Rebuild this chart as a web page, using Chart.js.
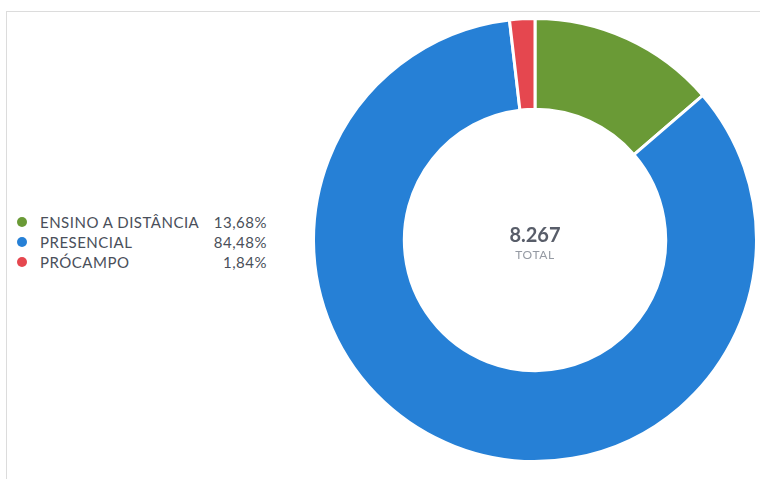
<!DOCTYPE html>
<html>
<head>
<meta charset="utf-8">
<script src="https://cdn.jsdelivr.net/npm/chart.js@4/dist/chart.umd.min.js"></script>
<style>
  html, body { margin: 0; padding: 0; background: #fff; width: 760px; height: 479px; overflow: hidden; }
  #frame { position: absolute; left: 6px; top: 11px; width: 760px; height: 480px; border-top: 1px solid #dcdcdc; border-left: 1px solid #dcdcdc; }
  #chartBox { position: absolute; left: 312px; top: 17px; width: 446px; height: 446px; }
  #legend { position: absolute; left: 16px; top: 212px; font-family: Lato, sans-serif; font-size: 15px; letter-spacing: 0.5px; color: #4a4f5a; }
  .row { display: flex; align-items: center; height: 20px; }
  .dot { width: 10px; height: 10px; border-radius: 50%; margin-right: 13px; margin-left: 1px; }
  .lab { width: 160px; white-space: nowrap; }
  .pct { width: 67px; text-align: right; }
  #center { position: absolute; left: 435px; width: 200px; top: 222px; text-align: center; font-family: Lato, sans-serif; }
  #total { font-size: 20px; font-weight: bold; color: #585d69; line-height: 24px; }
  #totalLab { font-size: 12px; letter-spacing: 0.6px; color: #959aa3; line-height: 18px; }
</style>
</head>
<body>
<div id="frame"></div>
<div id="legend"></div>
<div id="chartBox"><canvas id="c"></canvas></div>
<div id="center"><div id="total"></div><div id="totalLab"></div></div>
<script>
const categories = ["ENSINO A DISTÂNCIA", "PRESENCIAL", "PRÓCAMPO"];
const values = [1131, 6984, 152];
const percentLabels = ["13,68%", "84,48%", "1,84%"];
const colors = ["#6a9a36", "#2680d6", "#e5474f"];
const totalText = "8.267";
const totalLabel = "TOTAL";

const legend = document.getElementById('legend');
categories.forEach((c, i) => {
  const row = document.createElement('div');
  row.className = 'row';
  row.innerHTML = '<span class="dot" style="background:' + colors[i] + '"></span><span class="lab">' + c + '</span><span class="pct">' + percentLabels[i] + '</span>';
  legend.appendChild(row);
});
document.getElementById('total').textContent = totalText;
document.getElementById('totalLab').textContent = totalLabel;

new Chart(document.getElementById('c'), {
  type: 'doughnut',
  data: {
    labels: categories,
    datasets: [{
      data: values,
      backgroundColor: colors,
      borderColor: '#ffffff',
      borderWidth: 3,
      hoverOffset: 0
    }]
  },
  options: {
    responsive: true,
    maintainAspectRatio: false,
    animation: false,
    cutout: '59%',
    layout: { padding: 0 },
    plugins: { legend: { display: false }, tooltip: { enabled: false } }
  }
});
</script>
</body>
</html>
